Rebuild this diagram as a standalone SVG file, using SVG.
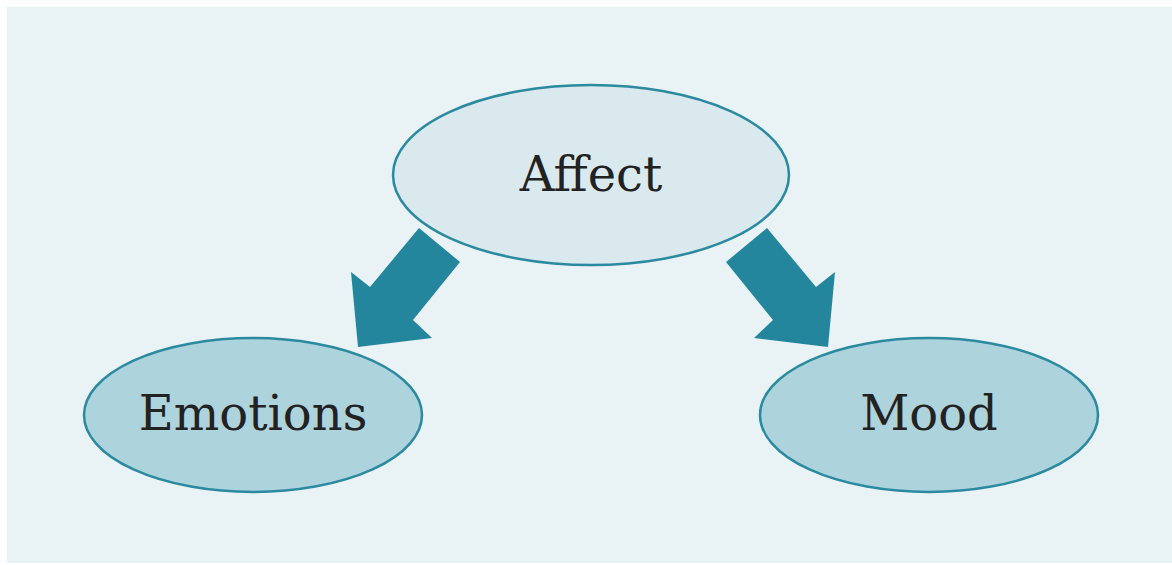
<svg xmlns="http://www.w3.org/2000/svg" width="1172" height="565" viewBox="0 0 1172 565">
<style>
.node ellipse{stroke:#2c8aa0;stroke-width:2.5}
.lbl{font-family:"DejaVu Serif","Liberation Serif",serif;font-size:48px;fill:#222;text-anchor:middle}
.arrow{fill:#23869d}
</style>
<rect x="0" y="0" width="1172" height="565" fill="#ffffff"/>
<rect x="7" y="7" width="1165" height="556" fill="#e9f2f4"/>
<g id="connectors">
<polygon class="arrow" points="419,228 460,262 413,320 432,338 358,347 351,272 370,287"/>
<polygon class="arrow" points="767,228 726,262 773,320 754,338 828,347 835,272 816,287"/>
</g>
<g id="affect" class="node">
<ellipse cx="591" cy="175" rx="198" ry="90" fill="#d9e9ee"/>
<text class="lbl" x="591" y="191">Affect</text>
</g>
<g id="emotions" class="node">
<ellipse cx="253" cy="415" rx="169" ry="77" fill="#add3dd"/>
<text class="lbl" x="253" y="430">Emotions</text>
</g>
<g id="mood" class="node">
<ellipse cx="929" cy="415" rx="169" ry="77" fill="#add3dd"/>
<text class="lbl" x="929" y="430">Mood</text>
</g>
</svg>
